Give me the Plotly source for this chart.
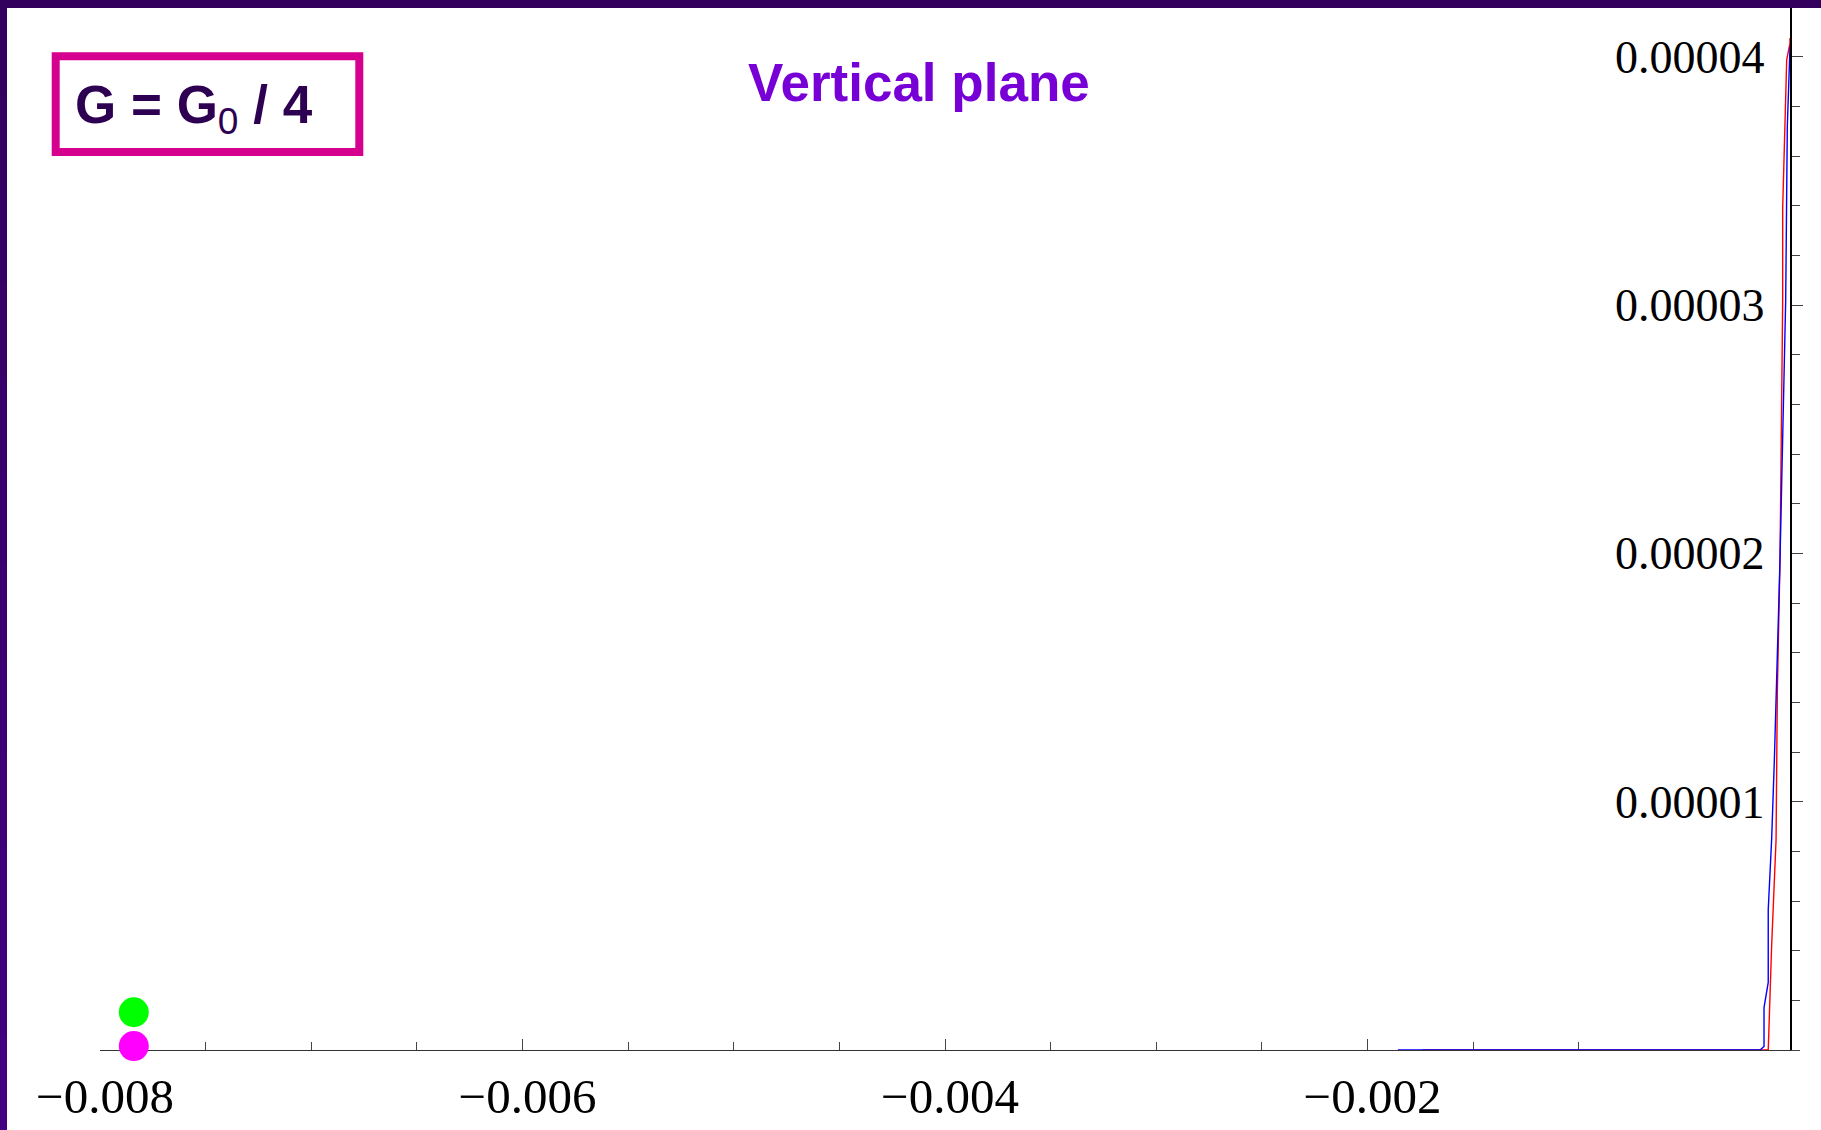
import plotly.graph_objects as go

# ---------------- data ----------------
blue_x = [-0.001856, -0.000142, -0.000123, -0.000123, -0.000103, -0.000103,
          -0.000087, -0.000074, -0.0000473, -0.0000204, -0.0000128, 0.0]
blue_y = [0.0, 0.0, 1.4e-7, 1.71e-6, 2.72e-6, 5.65e-6,
          8.47e-6, 1.169e-5, 1.974e-5, 3.021e-5, 3.718e-5, 4.040e-5]

red_x = [-0.00174, -0.000103, -0.000087, -0.000066, -0.000060, -0.0000473,
         -0.0000346, -0.0000346, -0.0000156, 0.0, 0.0]
red_y = [0.0, 0.0, 4.18e-6, 8.47e-6, 1.439e-5, 1.974e-5,
         3.021e-5, 3.391e-5, 3.987e-5, 4.054e-5, 4.075e-5]

dot_x = [-0.00784, -0.00784]
dot_y = [1.52e-6, 1.6e-7]
dot_colors = ["#00FF00", "#FF00FF"]

x_ticks = [-0.008, -0.006, -0.004, -0.002]
x_labels = ["\u22120.008", "\u22120.006", "\u22120.004", "\u22120.002"]
y_ticks = [1e-5, 2e-5, 3e-5, 4e-5]
y_labels = ["0.00001", "0.00002", "0.00003", "0.00004"]

title_text = "Vertical plane"
box_text = "<b>G = G</b><sub>0</sub><b> / 4</b>"

# ---------------- layout geometry ----------------
W, H = 1821, 1130
L, R, T, B = 100, 1790, 7, 1050


def xp(px):
    return (px - L) / (R - L)


def yp(py):
    return (B - py) / (B - T)


fig = go.Figure()

fig.add_trace(go.Scatter(x=red_x, y=red_y, mode="lines",
                         line=dict(color="#FF0000", width=1.4),
                         cliponaxis=False, showlegend=False))
fig.add_trace(go.Scatter(x=blue_x, y=blue_y, mode="lines",
                         line=dict(color="#0000FF", width=1.4),
                         cliponaxis=False, showlegend=False))
fig.add_trace(go.Scatter(x=dot_x, y=dot_y, mode="markers",
                         marker=dict(color=dot_colors, size=30, line=dict(width=0)),
                         cliponaxis=False, showlegend=False))

shapes = []
# top border
shapes.append(dict(type="rect", xref="paper", yref="paper",
                   x0=xp(0), x1=xp(W), y0=yp(8), y1=yp(0),
                   fillcolor="#33005E", line=dict(width=0), layer="above"))
# left border (slight gradient)
n = 12
c0 = (0x33, 0x00, 0x5E)
c1 = (0x42, 0x00, 0x80)
for i in range(n):
    t = i / (n - 1)
    col = "rgb(%d,%d,%d)" % tuple(int(a + (b - a) * t) for a, b in zip(c0, c1))
    shapes.append(dict(type="rect", xref="paper", yref="paper",
                       x0=xp(0), x1=xp(7),
                       y0=yp(H * (i + 1) / n + 1), y1=yp(H * i / n),
                       fillcolor=col, line=dict(width=0), layer="above"))
# magenta box
shapes.append(dict(type="rect", xref="paper", yref="paper",
                   x0=xp(55.7), x1=xp(359.3), y0=yp(152), y1=yp(56.3),
                   line=dict(color="#D6008F", width=8), fillcolor="rgba(0,0,0,0)"))

annotations = [
    dict(text="<b>" + title_text + "</b>", xref="paper", yref="paper",
         x=xp(919), y=yp(83), xanchor="center", yanchor="middle", showarrow=False,
         font=dict(family="Liberation Sans, Arial", size=53, color="#7700D6")),
    dict(text=box_text, xref="paper", yref="paper",
         x=xp(194), y=yp(108), xanchor="center", yanchor="middle", showarrow=False,
         font=dict(family="Liberation Sans, Arial", size=53, color="#2E0052")),
]

fig.update_layout(
    width=W, height=H,
    margin=dict(l=L, r=W - R, t=T, b=H - B, pad=0, autoexpand=False),
    paper_bgcolor="white", plot_bgcolor="white",
    shapes=shapes, annotations=annotations,
    showlegend=False,
)

fig.update_xaxes(
    range=[-0.008, 0], showgrid=False, zeroline=False, automargin=False,
    showline=True, linecolor="#333333", linewidth=1.3,
    ticks="inside", ticklen=11, tickwidth=1.3, tickcolor="#444444",
    tickmode="array", tickvals=x_ticks, ticktext=x_labels,
    tickfont=dict(family="Liberation Serif, Times New Roman", size=49, color="black"),
    ticklabelstandoff=3, ticklabelshift=5,
    minor=dict(ticks="inside", ticklen=8, tickwidth=1.2, tickcolor="#444444",
               dtick=0.0005, tick0=0, showgrid=False),
    layer="below traces",
)

fig.update_yaxes(
    range=[0, 4.2e-5], showgrid=False, zeroline=False, side="right", automargin=False,
    showline=True, linecolor="black", linewidth=1.5,
    ticks="outside", ticklen=11, tickwidth=1.3, tickcolor="#444444",
    ticklabelposition="inside",
    tickmode="array", tickvals=y_ticks, ticktext=y_labels,
    tickfont=dict(family="Liberation Serif, Times New Roman", size=46, color="black"),
    ticklabelstandoff=32,
    minor=dict(ticks="outside", ticklen=8, tickwidth=1.2, tickcolor="#444444",
               dtick=2e-6, tick0=0, showgrid=False),
    layer="below traces",
)

fig.write_html("out.html",
               config={"displayModeBar": False},
               post_script="document.body.style.margin='0';document.body.style.overflow='hidden';")
